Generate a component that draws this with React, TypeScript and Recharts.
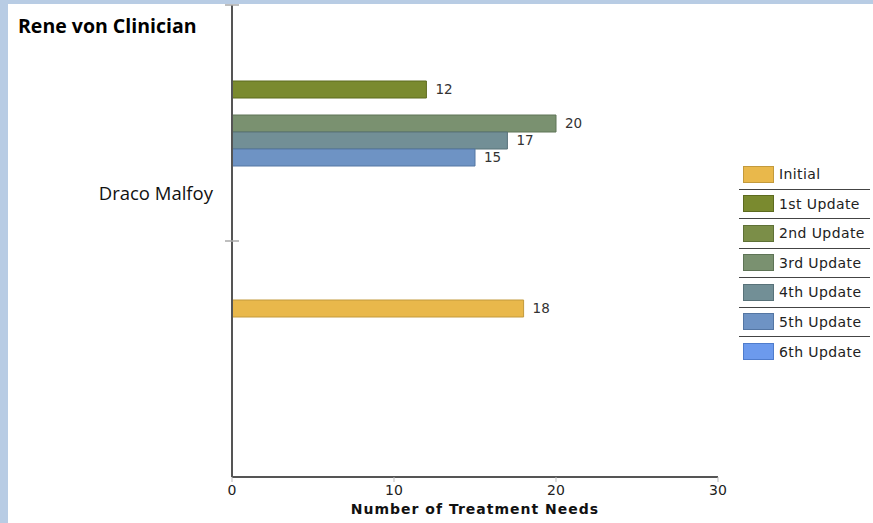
import React from 'react';
import { BarChart, Bar, XAxis, YAxis, LabelList, Label } from 'recharts';

// two rows on the category axis; only the first one carries a name
const categories = ['Draco Malfoy', ''];
const seriesNames = ['Initial', '1st Update', '2nd Update', '3rd Update', '4th Update', '5th Update', '6th Update'];
const initialValues = [null, 18];
const update1Values = [12, null];
const update2Values = [null, null];
const update3Values = [20, null];
const update4Values = [17, null];
const update5Values = [15, null];
const update6Values = [null, null];
const xTicks = [0, 10, 20, 30];

const seriesValues = [
  initialValues,
  update1Values,
  update2Values,
  update3Values,
  update4Values,
  update5Values,
  update6Values,
];

const fills = ['#e9b84b', '#7a8a2f', '#7b8e48', '#7a9170', '#728f96', '#6e93c4', '#6c9aed'];
const strokes = ['#c39a3c', '#5d6b1f', '#5f7136', '#5e7456', '#587279', '#5476a3', '#4f7ccc'];

const data = categories.map((name, i) => {
  const row: Record<string, string | number | null> = { name };
  seriesNames.forEach((s, k) => {
    row[s] = seriesValues[k][i];
  });
  return row;
});

const tickFont = 'DejaVu Sans, Verdana, sans-serif';

const CategoryTick = (props: any) => {
  const { x, y, payload } = props;
  const half = payload.offset ?? 118;
  const top = y - half;
  return (
    <g>
      <line x1={x - 7} x2={x + 7} y1={top} y2={top} stroke="#aaa" strokeWidth={1.5} />
      {payload.value ? (
        <text
          x={x - 19}
          y={y + 72}
          textAnchor="end"
          dominantBaseline="middle"
          fill="#111"
          fontSize={18.5}
          fontFamily="Open Sans, sans-serif"
        >
          {payload.value}
        </text>
      ) : null}
    </g>
  );
};

const ChartLegend = () => (
  <div style={{ position: 'absolute', left: 731, top: 156, width: 131 }}>
    {seriesNames.map((name, i) => (
      <div
        key={name}
        style={{
          height: 29.5,
          display: 'flex',
          alignItems: 'center',
          borderBottom: i < seriesNames.length - 1 ? '1.5px solid #444' : 'none',
          boxSizing: 'border-box',
          paddingLeft: 4,
        }}
      >
        <div
          style={{
            width: 29,
            height: 15,
            background: fills[i],
            border: `1px solid ${strokes[i]}`,
            marginRight: 5,
          }}
        />
        <span style={{ fontFamily: tickFont, fontSize: 14, letterSpacing: 0.4, color: '#222' }}>{name}</span>
      </div>
    ))}
  </div>
);

export default function App() {
  return (
    <div
      style={{
        position: 'absolute',
        left: 0,
        top: 0,
        width: 873,
        height: 523,
        background: '#b8cce4',
        overflow: 'hidden',
      }}
    >
      <div style={{ position: 'absolute', left: 8, top: 4, width: 865, height: 519, background: '#fff' }}>
        <div
          style={{
            position: 'absolute',
            left: 10,
            top: 8,
            fontFamily: 'Open Sans, sans-serif',
            fontWeight: 700,
            fontSize: 19.5,
            color: '#000',
            zIndex: 2,
          }}
        >
          Rene von Clinician
        </div>
        <BarChart
          width={865}
          height={519}
          layout="vertical"
          data={data}
          margin={{ top: 1, right: 155, bottom: 0, left: 0 }}
          barGap={0}
          barSize={17}
        >
          <XAxis
            type="number"
            domain={[0, 30]}
            ticks={xTicks}
            height={46}
            axisLine={{ stroke: '#555', strokeWidth: 2 }}
            tickLine={{ stroke: '#bbb' }}
            tickSize={5}
            tickMargin={3}
            tick={{ fill: '#222', fontSize: 14, fontFamily: tickFont }}
          >
            <Label
              value="Number of Treatment Needs"
              position="insideBottom"
              offset={9}
              fill="#111"
              fontSize={14}
              fontWeight="bold"
              letterSpacing={1}
              fontFamily={tickFont}
            />
          </XAxis>
          <YAxis
            type="category"
            dataKey="name"
            width={224}
            tickLine={false}
            tickSize={0}
            tickMargin={0}
            axisLine={{ stroke: '#555', strokeWidth: 2 }}
            tick={<CategoryTick />}
          />
          {seriesNames.map((s, k) => (
            <Bar
              key={s}
              dataKey={s}
              fill={fills[k]}
              stroke={strokes[k]}
              strokeWidth={1}
              isAnimationActive={false}
            >
              <LabelList
                dataKey={s}
                position="right"
                offset={9}
                fill="#333"
                fontSize={13.5}
                fontFamily={tickFont}
              />
            </Bar>
          ))}
        </BarChart>
        <ChartLegend />
      </div>
    </div>
  );
}
